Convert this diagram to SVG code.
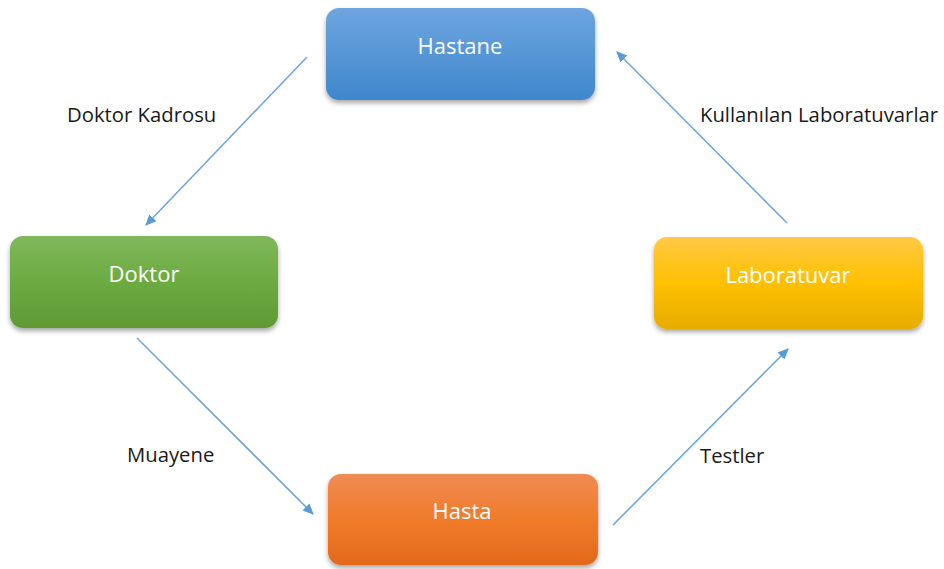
<svg xmlns="http://www.w3.org/2000/svg" width="944" height="569" viewBox="0 0 944 569">
<style>
.lbl{font-family:"Open Sans","Liberation Sans",sans-serif;font-size:20.3px;fill:#1a1a1a}
.nt{font-family:"Open Sans","Liberation Sans",sans-serif;font-size:22px;fill:#ffffff;text-anchor:middle}
.con{stroke:#6fa6dc;stroke-width:1.6;fill:none;marker-end:url(#ah)}
</style>
<defs>
<linearGradient id="gb" x1="0" y1="0" x2="0" y2="1"><stop offset="0" stop-color="#6ea6df"/><stop offset="1" stop-color="#3f87cd"/></linearGradient>
<linearGradient id="gg" x1="0" y1="0" x2="0" y2="1"><stop offset="0" stop-color="#80b85c"/><stop offset="0.5" stop-color="#6cab41"/><stop offset="1" stop-color="#5f9a34"/></linearGradient>
<linearGradient id="gy" x1="0" y1="0" x2="0" y2="1"><stop offset="0" stop-color="#ffc946"/><stop offset="0.5" stop-color="#ffc000"/><stop offset="1" stop-color="#e6ad00"/></linearGradient>
<linearGradient id="go" x1="0" y1="0" x2="0" y2="1"><stop offset="0" stop-color="#ef8c54"/><stop offset="0.5" stop-color="#f07b2a"/><stop offset="1" stop-color="#e2691b"/></linearGradient>
<filter id="sh" x="-10%" y="-20%" width="120%" height="150%"><feDropShadow dx="0" dy="3" stdDeviation="2.5" flood-color="#000" flood-opacity="0.35"/></filter>
<marker id="ah" viewBox="0 0 10 10" refX="9" refY="5" markerWidth="11" markerHeight="11" markerUnits="userSpaceOnUse" orient="auto"><path d="M0,0.5 L10,5 L0,9.5 z" fill="#5b9bd5"/></marker>
</defs>
<g id="connectors">
<line class="con" x1="307" y1="57" x2="146" y2="225"/>
<line class="con" x1="137" y1="338" x2="313" y2="514"/>
<line class="con" x1="613" y1="525" x2="788" y2="349"/>
<line class="con" x1="787" y1="223" x2="617" y2="52"/>
</g>
<g id="labels">
<text class="lbl" x="67" y="122">Doktor Kadrosu</text>
<text class="lbl" x="700" y="122">Kullanılan Laboratuvarlar</text>
<text class="lbl" x="127" y="462">Muayene</text>
<text class="lbl" x="700" y="463">Testler</text>
</g>
<g id="hastane">
<rect x="326" y="8" width="269" height="92" rx="13" fill="url(#gb)" filter="url(#sh)"/>
<text class="nt" x="460" y="54">Hastane</text>
</g>
<g id="doktor">
<rect x="10" y="236" width="268" height="92" rx="13" fill="url(#gg)" filter="url(#sh)"/>
<text class="nt" x="144" y="282">Doktor</text>
</g>
<g id="laboratuvar">
<rect x="654" y="237" width="269" height="92" rx="13" fill="url(#gy)" filter="url(#sh)"/>
<text class="nt" x="788" y="283">Laboratuvar</text>
</g>
<g id="hasta">
<rect x="328" y="474" width="270" height="91" rx="13" fill="url(#go)" filter="url(#sh)"/>
<text class="nt" x="462" y="519">Hasta</text>
</g>
</svg>
